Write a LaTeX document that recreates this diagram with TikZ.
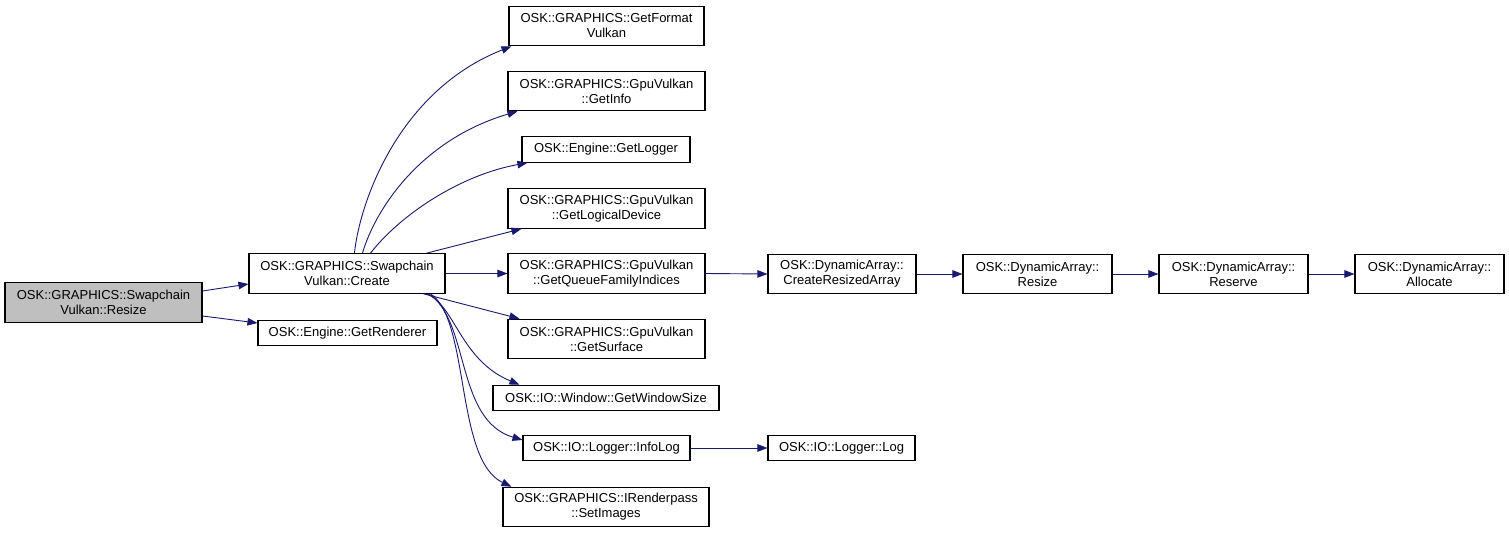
\documentclass[tikz,border=0pt]{standalone}
\usepackage{fontspec}
\setmainfont{Liberation Sans}
\usetikzlibrary{arrows.meta}
\definecolor{edgeblue}{RGB}{25,25,112}
\definecolor{hilite}{RGB}{191,191,191}
\begin{document}
\begin{tikzpicture}[x=1pt,y=-1pt,
  fn/.style={draw=black,line width=1.1pt,fill=white,inner sep=0pt,align=center,
    font=\fontsize{13}{15}\selectfont,minimum height=39.5pt},
  fn1/.style={fn,minimum height=25.5pt},
  call/.style={draw=edgeblue,line width=0.9pt,-{Triangle[length=10pt,width=7.5pt]},fill=none},
]
\fill[white] (0,0) rectangle (1509,533);
\useasboundingbox (0,0) rectangle (1509,533);

\node[fn,fill=hilite,minimum width=197pt] (resize) at (103.5,302.5) {OSK::GRAPHICS::Swapchain\\Vulkan::Resize};
\node[fn,minimum width=196pt] (create) at (347,273.5) {OSK::GRAPHICS::Swapchain\\Vulkan::Create};
\node[fn1,minimum width=179pt] (rend) at (347.5,333) {OSK::Engine::GetRenderer};

\node[fn,minimum width=195pt] (fmt) at (606.5,26) {OSK::GRAPHICS::GetFormat\\Vulkan};
\node[fn,minimum width=197pt] (info) at (606.5,91) {OSK::GRAPHICS::GpuVulkan\\::GetInfo};
\node[fn1,minimum width=168pt] (logger) at (606,149.5) {OSK::Engine::GetLogger};
\node[fn,minimum width=197pt] (ld) at (606.5,208.5) {OSK::GRAPHICS::GpuVulkan\\::GetLogicalDevice};
\node[fn,minimum width=197pt] (gqfi) at (606.5,273.5) {OSK::GRAPHICS::GpuVulkan\\::GetQueueFamilyIndices};
\node[fn,minimum width=197pt] (surf) at (606.5,339) {OSK::GRAPHICS::GpuVulkan\\::GetSurface};
\node[fn1,minimum width=226pt] (win) at (606,398) {OSK::IO::Window::GetWindowSize};
\node[fn1,minimum width=167pt] (infolog) at (606.5,448) {OSK::IO::Logger::InfoLog};
\node[fn,minimum width=206pt] (setimg) at (606,507) {OSK::GRAPHICS::IRenderpass\\::SetImages};

\node[fn,minimum width=148pt] (cra) at (842,274) {OSK::DynamicArray::\\CreateResizedArray};
\node[fn,minimum width=149pt] (dres) at (1037.5,274) {OSK::DynamicArray::\\Resize};
\node[fn,minimum width=149pt] (dresv) at (1233.5,274) {OSK::DynamicArray::\\Reserve};
\node[fn,minimum width=149pt] (dalloc) at (1429.5,274) {OSK::DynamicArray::\\Allocate};
\node[fn1,minimum width=147pt] (log) at (841.5,448) {OSK::IO::Logger::Log};

% edges
\draw[call] ([yshift=11.5pt]resize.east) -- ([yshift=-10.5pt]create.west);
\draw[call] ([yshift=-13.5pt]resize.east) -- ([yshift=10pt]rend.west);

\draw[call] ([xshift=106pt]create.north west) .. controls (360,200) and (400,90) .. ([xshift=3pt]fmt.south west);
\draw[call] ([xshift=114pt]create.north west) .. controls (375,210) and (420,140) .. ([xshift=10pt]info.south west);
\draw[call] ([xshift=122pt]create.north west) .. controls (400,215) and (460,175) .. ([xshift=6pt]logger.south west);
\draw[call] ([xshift=178pt]create.north west) -- ([xshift=14pt]ld.south west);
\draw[call] (create.east) -- (gqfi.west);
\draw[call] ([xshift=-22pt]create.south east) -- ([xshift=12pt]surf.north west);
\draw[call] ([xshift=-19pt]create.south east) .. controls (455,305) and (460,360) .. ([xshift=27pt]win.north west);
\draw[call] ([xshift=-17pt]create.south east) .. controls (470,320) and (455,420) .. ([yshift=8pt]infolog.west);
\draw[call] ([xshift=-15pt]create.south east) .. controls (470,320) and (455,460) .. ([xshift=9pt]setimg.north west);

\draw[call] (gqfi.east) -- (cra.west);
\draw[call] (cra.east) -- (dres.west);
\draw[call] (dres.east) -- (dresv.west);
\draw[call] (dresv.east) -- (dalloc.west);
\draw[call] (infolog.east) -- (log.west);
\end{tikzpicture}
\end{document}
